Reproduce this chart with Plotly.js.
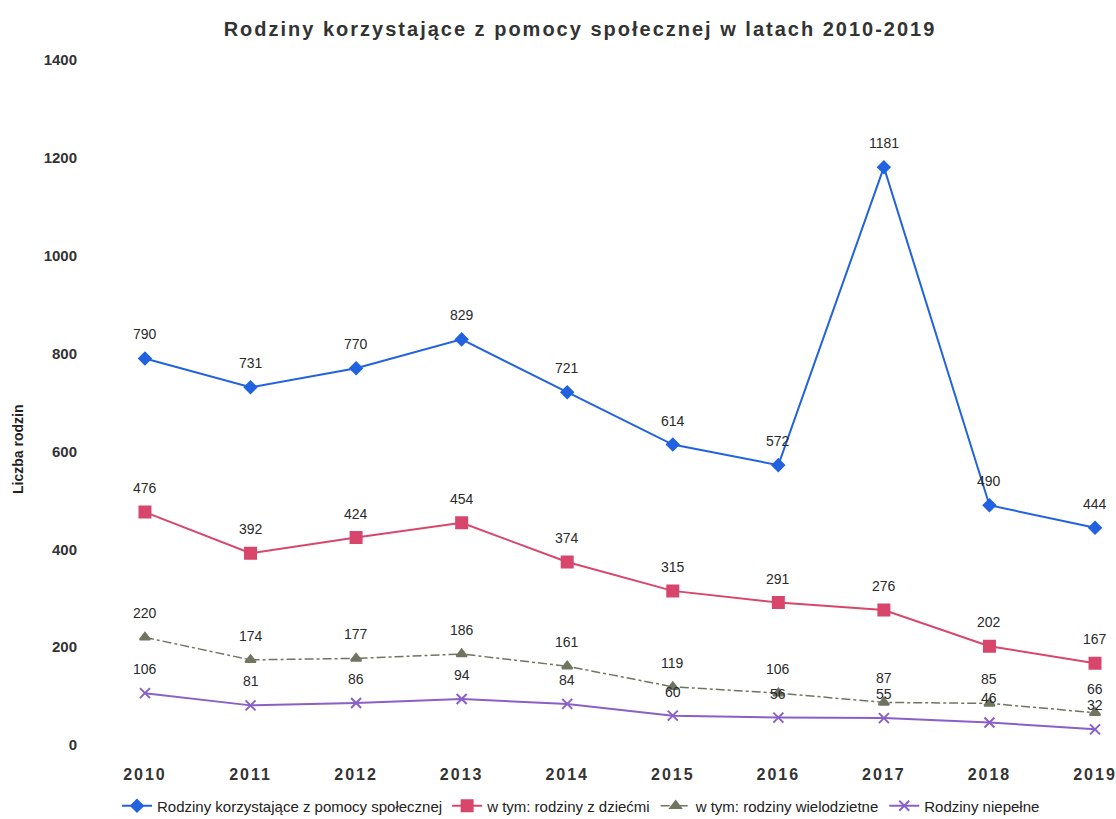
<!DOCTYPE html>
<html>
<head>
<meta charset="utf-8">
<script src="https://cdn.plot.ly/plotly-3.0.1.min.js"></script>
<style>
html,body{margin:0;padding:0;background:#fff}
#chart{width:1116px;height:819px}
#chart .gtitle{letter-spacing:2px}
#chart .xtick text{letter-spacing:2px}
</style>
</head>
<body>
<div id="chart"></div>
<script>
const years = ["2010","2011","2012","2013","2014","2015","2016","2017","2018","2019"];
const seriesNames = ["Rodziny korzystające z pomocy społecznej","w tym: rodziny z dziećmi","w tym: rodziny wielodzietne","Rodziny niepełne"];
const rodzinyOgolem = [790, 731, 770, 829, 721, 614, 572, 1181, 490, 444];
const rodzinyZDziecmi = [476, 392, 424, 454, 374, 315, 291, 276, 202, 167];
const rodzinyWielodzietne = [220, 174, 177, 186, 161, 119, 106, 87, 85, 66];
const rodzinyNiepelne = [106, 81, 86, 94, 84, 60, 56, 55, 46, 32];
const yTicks = [0, 200, 400, 600, 800, 1000, 1200, 1400];

const xIdx = years.map((_, i) => i);
const styles = [
  {color:'#2162e0', symbol:'diamond', size:9, width:2, dash:'solid'},
  {color:'#d8466c', symbol:'square', size:11, width:2, dash:'solid'},
  {color:'#6f7560', symbol:'triangle-up', size:9, width:1.5, dash:'dashdot'},
  {color:'#8a5fc8', symbol:'x-thin-open', size:10, width:2, dash:'solid'}
];
const allSeries = [rodzinyOgolem, rodzinyZDziecmi, rodzinyWielodzietne, rodzinyNiepelne];

const traces = allSeries.map((vals, k) => ({
  x: xIdx, y: vals, name: seriesNames[k], type: 'scatter', mode: 'lines+markers',
  line: {color: styles[k].color, width: styles[k].width, dash: styles[k].dash},
  marker: {color: styles[k].color, symbol: styles[k].symbol, size: styles[k].size,
           line: {color: styles[k].color, width: 2}},
  hoverinfo: 'y'
}));

const FONT = 'Liberation Sans, Arial, sans-serif';
const annotations = [];
allSeries.forEach((vals) => {
  vals.forEach((v, i) => {
    annotations.push({x: i, y: v, xref:'x', yref:'y', text: String(v), showarrow:false,
      yshift: 24, font:{family: FONT, size:14, color:'#2a2a2a'}});
  });
});
annotations.push({x: (18 - 100) / 1006, y: (745 - 450) / 685, xref:'paper', yref:'paper',
  xanchor:'center', yanchor:'middle', text:'Liczba rodzin', showarrow:false,
  textangle:-90, font:{family: FONT, size:14, color:'#222', weight:'bold'}});

const layout = {
  width: 1116, height: 819,
  margin: {l: 100, r: 10, t: 60, b: 74, autoexpand: false},
  paper_bgcolor: '#fff', plot_bgcolor: '#fff',
  title: {text: 'Rodziny korzystające z pomocy społecznej w latach 2010-2019',
    x: 580/1116, xanchor: 'center', y: 1 - 29/819, yanchor: 'middle',
    font: {family: FONT, size: 20, color: '#333', weight: 'bold'}},
  xaxis: {range: [-0.426, 9.104], tickvals: xIdx, ticktext: years, showgrid: false, zeroline: false,
    showline: false, ticks: '', ticklabelstandoff: 18,
    tickfont: {family: FONT, size: 16, color: '#333', weight: 'bold'}},
  yaxis: {range: [0, 1400], tickvals: yTicks, showgrid: false, zeroline: false, showline: false,
    ticks: '', ticklabelstandoff: 22,
    tickfont: {family: FONT, size: 15, color: '#333', weight: 'bold'}},
  legend: {orientation: 'h', x: (581 - 100) / 1006, xanchor: 'center', y: (745 - 806) / 685, yanchor: 'middle',
    font: {family: FONT, size: 15, color: '#222'}, itemwidth: 30, tracegroupgap: 0},
  annotations: annotations,
  showlegend: true
};

Plotly.newPlot('chart', traces, layout, {displayModeBar: false, staticPlot: true});
</script>
</body>
</html>
